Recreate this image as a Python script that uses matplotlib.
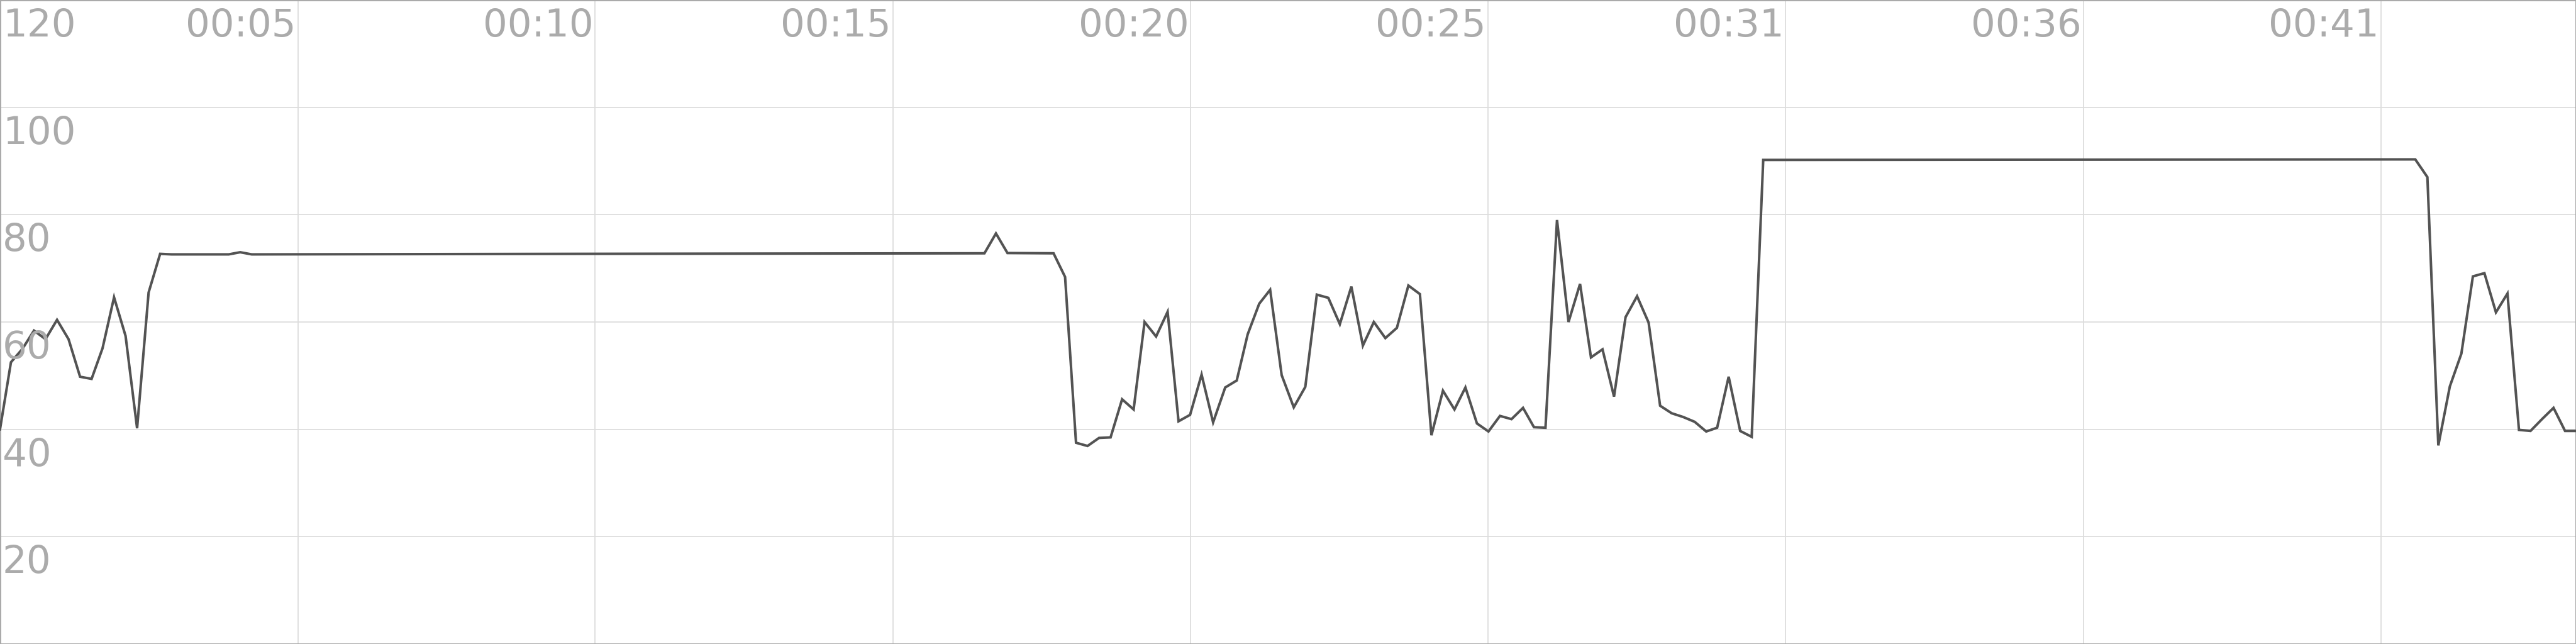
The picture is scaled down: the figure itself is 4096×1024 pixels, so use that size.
import matplotlib
matplotlib.use("Agg")
import matplotlib.pyplot as plt
from matplotlib.transforms import ScaledTranslation, blended_transform_factory

# ---- data (seconds, value) ----
times = [0.00, 0.19, 0.39, 0.59, 0.79, 0.99, 1.19, 1.39, 1.59, 1.78,
         1.98, 2.18, 2.38, 2.58, 2.78, 2.98, 3.97, 4.17, 4.37, 10.0,
         17.09, 17.29, 17.49, 18.29, 18.49, 18.68, 18.88, 19.08, 19.28, 19.48,
         19.68, 19.87, 20.07, 20.27, 20.46, 20.66, 20.86, 21.06, 21.27, 21.47,
         21.66, 21.86, 22.05, 22.25, 22.46, 22.66, 22.86, 23.06, 23.26, 23.46,
         23.66, 23.85, 24.05, 24.25, 24.45, 24.65, 24.85, 25.05, 25.25, 25.44,
         25.64, 25.84, 26.04, 26.24, 26.44, 26.63, 26.83, 27.03, 27.23, 27.43,
         27.62, 27.82, 28.02, 28.22, 28.42, 28.62, 28.82, 29.02, 29.22, 29.42,
         29.62, 29.81, 30.01, 30.21, 30.41, 30.61, 41.93, 42.14, 42.33, 42.53,
         42.73, 42.93, 43.13, 43.33, 43.53, 43.73, 43.93, 44.13, 44.33, 44.53,
         44.72]
values = [40.0, 52.5, 55.0, 58.4, 56.8, 60.4, 56.8, 49.8, 49.4, 55.1,
          64.6, 57.4, 40.2, 65.5, 72.7, 72.6, 72.6, 73.0, 72.6, 72.7,
          72.8, 76.5, 72.85, 72.8, 68.4, 37.5, 36.9, 38.4, 38.5, 45.6,
          43.7, 60.0, 57.3, 61.9, 41.5, 42.7, 50.2, 41.3, 47.8, 49.1,
          57.7, 63.4, 66.0, 50.1, 44.1, 47.9, 65.1, 64.5, 59.6, 66.6,
          55.6, 60.0, 57.0, 58.9, 66.8, 65.2, 38.9, 47.2, 43.7, 47.8,
          41.1, 39.6, 42.5, 41.9, 44.0, 40.4, 40.3, 79.0, 60.0, 67.1,
          53.4, 54.9, 46.1, 60.9, 64.8, 59.9, 44.4, 43.0, 42.3, 41.4,
          39.6, 40.3, 49.8, 39.7, 38.6, 90.2, 90.3, 87.0, 37.0, 48.0,
          54.1, 68.5, 69.1, 61.8, 65.3, 39.9, 39.7, 41.9, 44.0, 39.7,
          39.7]

tick_seconds = [5.17, 10.33, 15.5, 20.67, 25.83, 31.0, 36.17, 41.33]
tick_labels = ["00:05", "00:10", "00:15", "00:20", "00:25", "00:31", "00:36", "00:41"]
y_ticks = [20, 40, 60, 80, 100, 120]
y_labels = ["20", "40", "60", "80", "100", "120"]

LINE = "#535353"
GRID = "#dddddd"
TEXT = "#ababab"
BORDER = "#aaaaaa"

fig = plt.figure(figsize=(40.96, 10.24), dpi=100)
fig.patch.set_facecolor("white")
ax = fig.add_axes([0, 0, 1, 1])
ax.set_facecolor("white")

ax.plot(times, values, color=LINE, linewidth=2.9, solid_joinstyle="miter", zorder=3)

ax.set_xlim(0, 44.72)
ax.set_ylim(0, 120)
ax.set_xticks(tick_seconds)
ax.set_yticks(y_ticks)
ax.set_axisbelow(True)
ax.grid(True, color=GRID, linewidth=1.3)
ax.tick_params(length=0, labelbottom=False, labelleft=False)
for sp in ax.spines.values():
    sp.set_color(BORDER)
    sp.set_linewidth(2.2)

font = dict(family="DejaVu Sans", fontsize=44, color=TEXT)

ytr = blended_transform_factory(ax.transAxes, ax.transData) + \
    ScaledTranslation(0.04, -0.12, fig.dpi_scale_trans)
for v, lab in zip(y_ticks, y_labels):
    ax.text(0, v, lab, transform=ytr, ha="left", va="top", **font)

xtr = blended_transform_factory(ax.transData, ax.transAxes) + \
    ScaledTranslation(-0.03, -0.12, fig.dpi_scale_trans)
for t, lab in zip(tick_seconds, tick_labels):
    ax.text(t, 1, lab, transform=xtr, ha="right", va="top", **font)

fig.savefig("out.png", dpi=100, facecolor="white")
